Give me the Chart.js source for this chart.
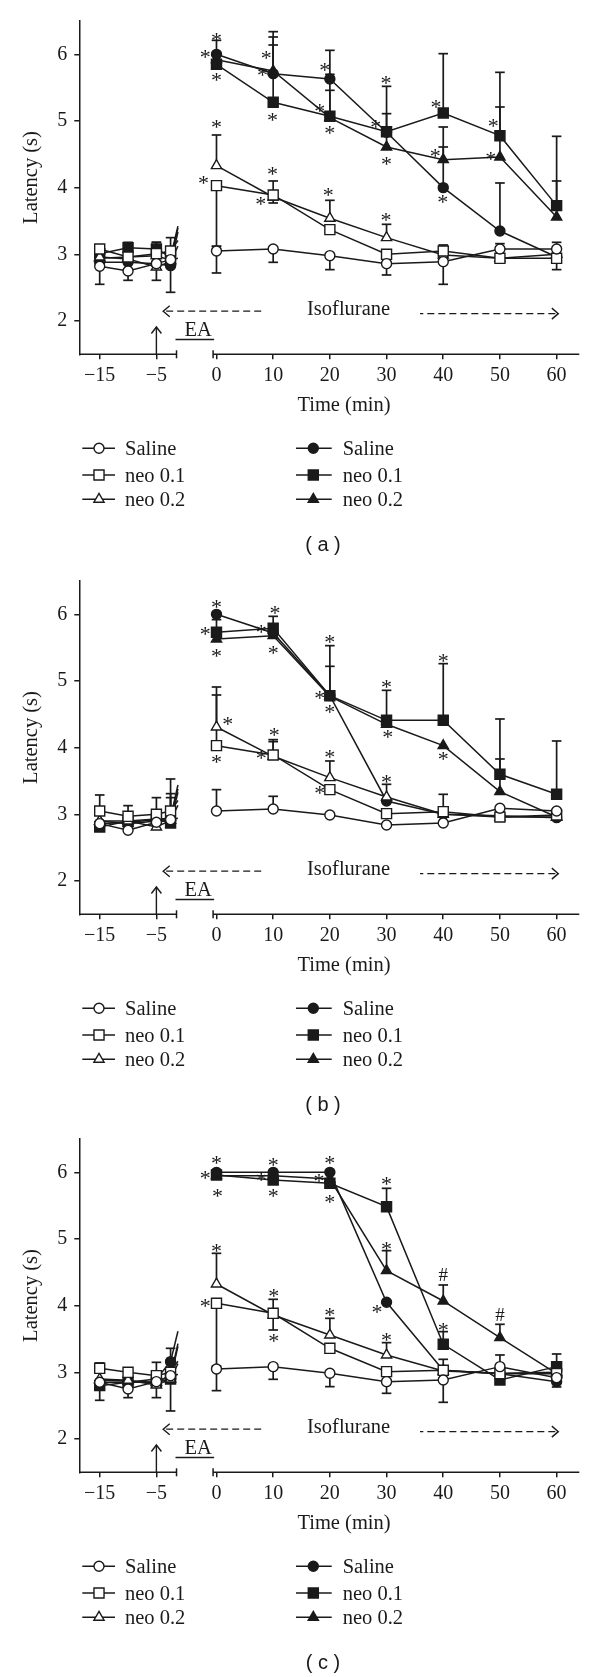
<!DOCTYPE html>
<html>
<head>
<meta charset="utf-8">
<title>Latency under isoflurane</title>
<script src="https://cdn.jsdelivr.net/npm/chart.js@4.4.1/dist/chart.umd.min.js"></script>
<style>
  body { margin: 0; background: #fff; }
  canvas { display: block; }
</style>
</head>
<body>
<canvas id="chartA" width="600" height="560"></canvas>
<canvas id="chartB" width="600" height="558"></canvas>
<canvas id="chartC" width="600" height="559"></canvas>
<script>
'use strict';

//========== Data ==========
let preTimes = [-15, -10, -5, -2.5];
let postTimes = [0, 10, 20, 30, 40, 50, 60];
let xTickValues = [-15, -5, 0, 10, 20, 30, 40, 50, 60];
let yTickValues = [2, 3, 4, 5, 6];
let groupNames = ['Saline', 'neo 0.1', 'neo 0.2'];

// panel (a)
let aOpenSal = [2.82, 2.75, 2.86, 2.92, 3.05, 3.08, 2.98, 2.86, 2.89, 3.08, 3.08];
let aOpenSalHi = [0, 0, 0, 0, 0.07, 0, 0, 0, 0, 0.08, 0.1];
let aOpenSalLo = [0.27, 0.14, 0.25, 0, 0.33, 0.2, 0.21, 0.17, 0.34, 0, 0];
let aOpenN01 = [3.08, 2.96, 3.01, 3.05, 4.03, 3.89, 3.37, 3.0, 3.05, 2.94, 2.94];
let aOpenN01Hi = [0.06, 0, 0, 0.2, 0, 0, 0, 0, 0.09, 0, 0];
let aOpenN01Lo = [0, 0, 0, 0, 0.91, 0.12, 0, 0, 0, 0, 0.17];
let aOpenN02 = [2.96, 2.93, 2.81, 2.89, 4.33, 3.86, 3.54, 3.25, 2.99, 2.94, 3.0];
let aOpenN02Hi = [0, 0, 0, 0, 0.46, 0.24, 0.27, 0.2, 0, 0, 0];
let aFillSal = [2.88, 2.88, 2.86, 2.83, 6.0, 5.71, 5.63, 4.83, 4.0, 3.35, 2.96];
let aFillSalHi = [0, 0, 0, 0, 0.21, 0.63, 0.43, 0, 0.61, 0.72, 0];
let aFillSalLo = [0, 0, 0, 0.4, 0, 0, 0, 0, 0, 0, 0];
let aFillN01 = [3.01, 3.1, 3.08, 2.96, 5.85, 5.28, 5.07, 4.84, 5.12, 4.78, 3.73];
let aFillN01Hi = [0, 0.08, 0.1, 0, 0, 0.86, 0.63, 0.68, 0.89, 0.95, 1.04];
let aFillN02 = [2.94, 2.96, 2.98, 2.91, 5.92, 5.75, 5.05, 4.61, 4.42, 4.46, 3.56];
let aFillN02Hi = [0, 0, 0.2, 0, 0, 0.51, 0.41, 0.5, 0.49, 0.75, 0.54];
let aStars = [[0, 6.26], [-2, 6.0], [0, 5.66], [8.8, 5.985], [8.1, 5.735], [9.9, 5.06],
  [0, 4.96], [-2.3, 4.11], [9.9, 4.25], [7.8, 3.8], [19.1, 5.81], [18.2, 5.2], [20, 4.87],
  [29.9, 5.62], [28.1, 4.95], [30, 4.4], [38.7, 5.26], [38.6, 4.52], [39.9, 3.83],
  [48.8, 4.97], [48.4, 4.475], [19.7, 3.94], [29.9, 3.56]];

// panel (b)
let bOpenSal = [2.86, 2.76, 2.88, 2.92, 3.05, 3.08, 2.99, 2.84, 2.87, 3.09, 3.05];
let bOpenSalHi = [0, 0, 0, 0, 0.32, 0.19, 0, 0, 0, 0, 0];
let bOpenN01 = [3.05, 2.97, 3.0, 3.05, 4.03, 3.89, 3.37, 3.01, 3.04, 2.96, 2.99];
let bOpenN01Hi = [0.24, 0.16, 0.25, 0.48, 0.88, 0.2, 0, 0, 0.26, 0, 0];
let bOpenN02 = [2.9, 2.9, 2.81, 2.91, 4.31, 3.87, 3.55, 3.26, 3.0, 2.96, 2.96];
let bOpenN02Hi = [0, 0, 0, 0.4, 0.48, 0.25, 0.25, 0.19, 0, 0, 0];
let bFillSal = [2.86, 2.88, 2.92, 2.95, 6.0, 5.72, 4.78, 3.2, 3.0, 2.98, 2.95];
let bFillSalHi = [0, 0, 0, 0.3, 0, 0, 0.44, 0, 0, 0, 0];
let bFillN01 = [2.81, 2.9, 2.93, 2.87, 5.73, 5.79, 4.78, 4.41, 4.41, 3.6, 3.3];
let bFillN01Hi = [0, 0, 0, 0, 0.19, 0.18, 0.75, 0.45, 0.85, 0.83, 0.8];
let bFillN02 = [2.9, 2.86, 2.9, 2.95, 5.63, 5.68, 4.77, 4.35, 4.03, 3.34, 2.96];
let bFillN02Hi = [0, 0, 0, 0, 0, 0, 0, 0, 0, 0.49, 0];
let bStars = [[0, 6.16], [-2, 5.75], [0, 5.42], [10.3, 6.07], [7.9, 5.785], [10, 5.47],
  [2, 4.4], [0, 3.835], [10.2, 4.235], [7.9, 3.885], [20, 5.635], [18.2, 4.785], [20, 4.585],
  [30, 4.95], [30.2, 4.2], [40, 5.35], [40, 3.87], [20, 3.91], [18.2, 3.36], [30, 3.535]];

// panel (c)
let cOpenSal = [2.85, 2.75, 2.86, 2.95, 3.05, 3.085, 2.985, 2.86, 2.885, 3.085, 2.92];
let cOpenSalHi = [0, 0, 0, 0, 0, 0, 0, 0, 0, 0.175, 0];
let cOpenSalLo = [0, 0.13, 0, 0, 0.325, 0.19, 0.2, 0.175, 0.335, 0, 0];
let cOpenN01 = [3.06, 3.0, 2.95, 3.0, 4.035, 3.885, 3.36, 3.01, 3.03, 2.98, 2.98];
let cOpenN01Hi = [0.08, 0, 0.2, 0, 0, 0, 0, 0, 0.165, 0, 0];
let cOpenN01Lo = [0, 0, 0, 0, 0.94, 0.25, 0, 0, 0, 0, 0];
let cOpenN02 = [2.9, 2.88, 2.81, 2.9, 4.325, 3.86, 3.56, 3.26, 3.02, 2.985, 3.0];
let cOpenN02Hi = [0, 0, 0, 0, 0.46, 0.235, 0.25, 0.185, 0, 0, 0];
let cOpenN02Lo = [0, 0, 0.19, 0, 0, 0, 0, 0, 0, 0, 0];
let cFillSal = [2.85, 2.85, 2.9, 3.16, 6.0, 6.0, 6.0, 4.05, 3.03, 2.98, 2.86];
let cFillSalHi = [0, 0, 0, 0.2, 0, 0, 0, 0, 0, 0, 0];
let cFillSalLo = [0, 0, 0, 0, 0, 0, 0, 0, 0, 0, 0.08];
let cFillN01 = [2.8, 2.85, 2.85, 2.9, 5.96, 5.885, 5.835, 5.485, 3.42, 2.885, 3.085];
let cFillN01Hi = [0, 0, 0, 0, 0, 0, 0, 0.275, 0.19, 0, 0.19];
let cFillN01Lo = [0.22, 0, 0, 0.48, 0, 0, 0, 0, 0, 0, 0];
let cFillN02 = [2.88, 2.87, 2.85, 2.95, 5.95, 5.95, 5.9, 4.525, 4.07, 3.52, 2.98];
let cFillN02Hi = [0, 0, 0, 0, 0, 0, 0, 0.3, 0.24, 0.2, 0];
let cStars = [[0, 6.185], [-2, 5.96], [0.2, 5.695], [10, 6.16], [7.9, 5.935], [10, 5.695],
  [0, 4.86], [-2, 4.045], [10.1, 4.195], [10.1, 3.51], [20, 6.185], [18.1, 5.91], [20, 5.595],
  [30, 5.875], [30, 4.9], [28.3, 3.95], [40, 3.685], [20, 3.9], [30, 3.535]];
let cHashes = [[40, 4.46], [50, 3.86]];

//========== Look ==========
const ink = '#1a1a1a';
const serif = "'Liberation Serif', 'Times New Roman', serif";
const gapShift = 5.6;          // pre-period is drawn left of a broken axis
const axisBreakLeft = -7.05;
const axisBreakRight = -0.6;
const stubEnd = -6.8;
const markerRadius = { circle: 5, rect: 7.1, triangle: 5.9 };

Chart.defaults.font.family = serif;
Chart.defaults.font.size = 20;
Chart.defaults.color = ink;

let xPositions = preTimes.map(t => t - gapShift).concat(postTimes);
let xTickPositions = xTickValues.map(t => (t < 0 ? t - gapShift : t));

//========== Helpers ==========
function makeDataset(label, values, hi, lo, style, filled) {
  return {
    label: label,
    data: xPositions.map((x, i) => ({ x: x, y: values[i] })),
    errHi: hi,
    errLo: lo,
    borderColor: ink,
    borderWidth: 1.5,
    pointStyle: style,
    pointRadius: markerRadius[style],
    pointBorderWidth: 1.4,
    pointBorderColor: ink,
    pointBackgroundColor: filled ? ink : '#fff',
    tension: 0,
    segment: {
      borderColor: c => (c.p0DataIndex === preTimes.length - 1 ? 'rgba(0,0,0,0)' : undefined)
    }
  };
}

function textAt(ctx, text, x, cy) {
  let m = ctx.measureText(text);
  ctx.fillText(text, x, cy + (m.actualBoundingBoxAscent - m.actualBoundingBoxDescent) / 2);
}

function drawMarker(ctx, style, x, y, filled) {
  let r = markerRadius[style];
  ctx.beginPath();
  if (style === 'circle') {
    ctx.arc(x, y, r, 0, Math.PI * 2);
  } else if (style === 'rect') {
    let s = r * Math.SQRT1_2;
    ctx.rect(x - s, y - s, 2 * s, 2 * s);
  } else {
    ctx.moveTo(x, y - r);
    ctx.lineTo(x + r * 0.866, y + r / 2);
    ctx.lineTo(x - r * 0.866, y + r / 2);
    ctx.closePath();
  }
  ctx.fillStyle = filled ? ink : '#fff';
  ctx.fill();
  ctx.stroke();
}

function line(ctx, x0, y0, x1, y1) {
  ctx.beginPath();
  ctx.moveTo(x0, y0);
  ctx.lineTo(x1, y1);
  ctx.stroke();
}

function dashedArrow(ctx, xTip, xTail, yy) {
  let d = xTail > xTip ? 1 : -1;
  ctx.save();
  ctx.setLineDash([7, 4]);
  line(ctx, xTip + d * 3, yy, xTail, yy);
  ctx.restore();
  ctx.beginPath();
  ctx.moveTo(xTip + d * 6.5, yy - 5.5);
  ctx.lineTo(xTip, yy);
  ctx.lineTo(xTip + d * 6.5, yy + 5.5);
  ctx.stroke();
}

//========== Plugin: error bars, axis break, notes, legend ==========
let decorPlugin = {
  id: 'decor',
  beforeDatasetsDraw(chart) {
    let ctx = chart.ctx;
    let xs = chart.scales.x;
    let ys = chart.scales.y;
    ctx.save();
    ctx.strokeStyle = ink;
    chart.data.datasets.forEach((ds, i) => {
      let meta = chart.getDatasetMeta(i);
      ctx.lineWidth = 1.7;
      meta.data.forEach((pt, j) => {
        let v = ds.data[j].y;
        [[ds.errHi, 1], [ds.errLo, -1]].forEach(([arr, sign]) => {
          if (!arr || !arr[j]) return;
          let yEnd = ys.getPixelForValue(v + sign * arr[j]);
          line(ctx, pt.x, pt.y, pt.x, yEnd);
          line(ctx, pt.x - 4.8, yEnd, pt.x + 4.8, yEnd);
        });
      });
      // the line towards time 0 is cut at the axis break
      let k = preTimes.length - 1;
      let p0 = meta.data[k];
      let p1 = meta.data[k + 1];
      let xe = xs.getPixelForValue(stubEnd);
      let ye = p0.y + (p1.y - p0.y) * (xe - p0.x) / (p1.x - p0.x);
      ctx.lineWidth = 1.5;
      line(ctx, p0.x, p0.y, xe, ye);
    });
    ctx.restore();
  },
  afterDraw(chart, args, opts) {
    let ctx = chart.ctx;
    let area = chart.chartArea;
    let xs = chart.scales.x;
    let ys = chart.scales.y;
    let px = v => xs.getPixelForValue(v);
    let py = v => ys.getPixelForValue(v);
    ctx.save();
    ctx.strokeStyle = ink;
    ctx.fillStyle = ink;
    ctx.lineWidth = 1.5;

    // broken x axis
    let yb = area.bottom;
    line(ctx, area.left, yb, px(axisBreakLeft), yb);
    line(ctx, px(axisBreakRight), yb, area.right, yb);
    line(ctx, px(axisBreakLeft), yb - 4, px(axisBreakLeft), yb + 4);
    line(ctx, px(axisBreakRight), yb - 4, px(axisBreakRight), yb + 4);

    // isoflurane and EA notes
    ctx.lineWidth = 1.4;
    dashedArrow(ctx, px(-9.4), px(7.9), py(2.147));
    dashedArrow(ctx, px(60.3), px(35.9), py(2.11));
    ctx.font = '20.5px ' + serif;
    ctx.textAlign = 'center';
    ctx.textBaseline = 'alphabetic';
    ctx.fillText('Isoflurane', px(23.3), py(2.097));
    ctx.fillText('EA', px(-3.25), py(1.772));
    line(ctx, px(-7.23), py(1.722), px(-0.42), py(1.722));
    let xa = px(-5 - gapShift);
    line(ctx, xa, yb, xa, py(1.91));
    ctx.beginPath();
    ctx.moveTo(xa - 5, py(1.91) + 6.5);
    ctx.lineTo(xa, py(1.91));
    ctx.lineTo(xa + 5, py(1.91) + 6.5);
    ctx.stroke();

    // significance marks
    ctx.font = '22px ' + serif;
    (opts.stars || []).forEach(([x, y]) => textAt(ctx, '*', px(x), py(y)));
    ctx.font = '19px ' + serif;
    (opts.hashes || []).forEach(([x, y]) => textAt(ctx, '#', px(x), py(y)));

    // axis titles
    ctx.font = '20.5px ' + serif;
    textAt(ctx, 'Time (min)', 344, 406);
    ctx.save();
    ctx.translate(31.7, 177.5);
    ctx.rotate(-Math.PI / 2);
    textAt(ctx, 'Latency (s)', 0, 0);
    ctx.restore();

    // legend: open symbols left, filled symbols right
    let rows = [448.3, 475, 499.3];
    let styles = ['circle', 'rect', 'triangle'];
    ctx.textAlign = 'left';
    ctx.lineWidth = 1.4;
    rows.forEach((ry, i) => {
      line(ctx, 82.3, ry, 115, ry);
      drawMarker(ctx, styles[i], 99, ry, false);
      line(ctx, 296, ry, 331.7, ry);
      drawMarker(ctx, styles[i], 313.3, ry, true);
      ctx.fillStyle = ink;
      ctx.fillText(groupNames[i], 125, ry + 6.5);
      ctx.fillText(groupNames[i], 342.7, ry + 6.5);
    });

    // panel letter
    ctx.font = "20px 'Liberation Sans', Arial, sans-serif";
    ctx.textAlign = 'center';
    textAt(ctx, opts.label, 323, 545);
    ctx.restore();
  }
};

//========== Chart builder ==========
function buildPanel(canvasId, groups, stars, hashes, label) {
  let canvas = document.getElementById(canvasId);
  let styles = ['circle', 'rect', 'triangle'];
  let datasets = [];
  // open symbols are listed first so they end up on top
  groups.open.forEach((g, i) => datasets.push(makeDataset(groupNames[i], g[0], g[1], g[2], styles[i], false)));
  groups.filled.forEach((g, i) => datasets.push(makeDataset(groupNames[i], g[0], g[1], g[2], styles[i], true)));

  return new Chart(canvas.getContext('2d'), {
    type: 'line',
    data: { datasets: datasets },
    plugins: [decorPlugin],
    options: {
      responsive: false,
      animation: false,
      events: [],
      layout: { padding: { top: 21, right: 20.7, left: 0, bottom: canvas.height - 354.3 - 40 } },
      plugins: {
        legend: { display: false },
        tooltip: { enabled: false },
        decor: { stars: stars, hashes: hashes, label: label }
      },
      scales: {
        x: {
          type: 'linear',
          min: -24.2,
          max: 64,
          afterFit: s => { s.height = 40; },
          afterBuildTicks: s => { s.ticks = xTickPositions.map(v => ({ value: v })); },
          border: { display: false },
          grid: { drawOnChartArea: false, drawTicks: true, tickLength: 5, color: ink, lineWidth: 1.5 },
          ticks: {
            autoSkip: false,
            maxRotation: 0,
            padding: 4,
            callback: (v, i) => String(xTickValues[i]).replace('-', '\u2212')
          }
        },
        y: {
          min: 1.5,
          max: 6.5,
          afterFit: s => { s.width = 79.3; },
          afterBuildTicks: s => { s.ticks = yTickValues.map(v => ({ value: v })); },
          border: { display: true, color: ink, width: 1.5 },
          grid: { drawOnChartArea: false, drawTicks: true, tickLength: 5, color: ink, lineWidth: 1.5 },
          ticks: { padding: 7 }
        }
      }
    }
  });
}

buildPanel('chartA', {
  open: [[aOpenSal, aOpenSalHi, aOpenSalLo], [aOpenN01, aOpenN01Hi, aOpenN01Lo], [aOpenN02, aOpenN02Hi, null]],
  filled: [[aFillSal, aFillSalHi, aFillSalLo], [aFillN01, aFillN01Hi, null], [aFillN02, aFillN02Hi, null]]
}, aStars, [], '( a )');

buildPanel('chartB', {
  open: [[bOpenSal, bOpenSalHi, null], [bOpenN01, bOpenN01Hi, null], [bOpenN02, bOpenN02Hi, null]],
  filled: [[bFillSal, bFillSalHi, null], [bFillN01, bFillN01Hi, null], [bFillN02, bFillN02Hi, null]]
}, bStars, [], '( b )');

buildPanel('chartC', {
  open: [[cOpenSal, cOpenSalHi, cOpenSalLo], [cOpenN01, cOpenN01Hi, cOpenN01Lo], [cOpenN02, cOpenN02Hi, cOpenN02Lo]],
  filled: [[cFillSal, cFillSalHi, cFillSalLo], [cFillN01, cFillN01Hi, cFillN01Lo], [cFillN02, cFillN02Hi, null]]
}, cStars, cHashes, '( c )');
</script>
</body>
</html>
